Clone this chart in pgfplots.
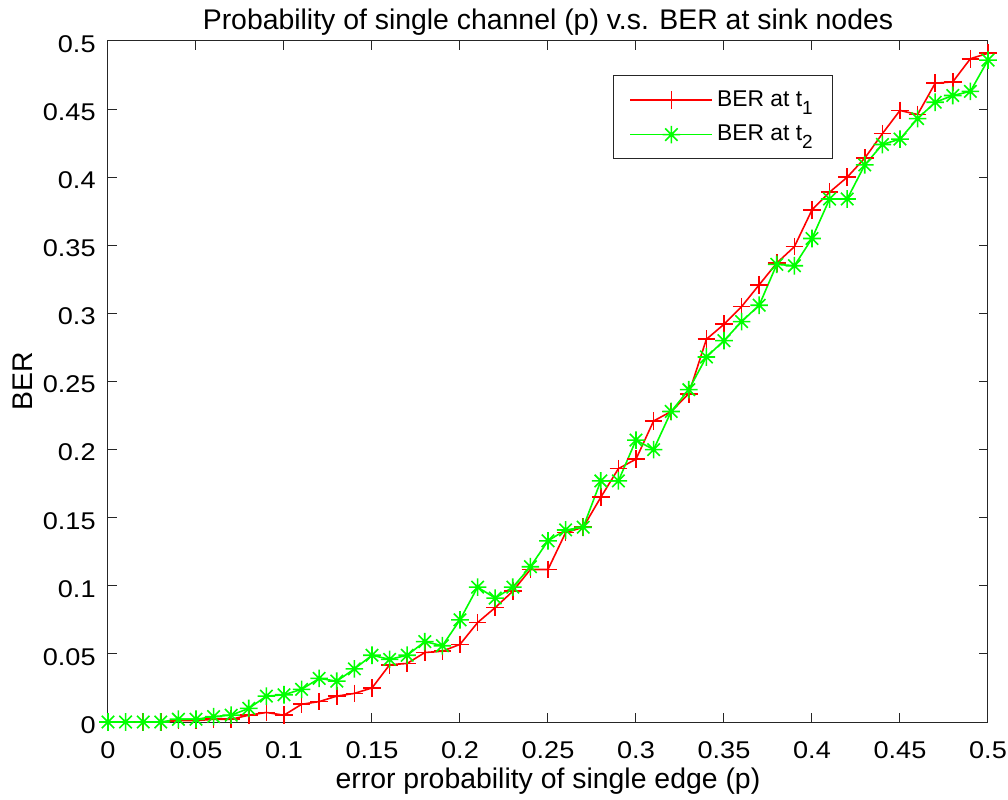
\documentclass[border=0pt]{standalone}
\usepackage{fontspec}
\setmainfont{Liberation Sans}
\newfontfamily\tickfont{Liberation Sans}[FakeStretch=1.12]
\usepackage{pgfplots}
\pgfplotsset{compat=1.18}
\usepackage{pgfplotstable}

\pgfdeclareplotmark{ast8}{%
  \pgfpathmoveto{\pgfqpoint{0pt}{\pgfplotmarksize}}%
  \pgfpathlineto{\pgfqpoint{0pt}{-\pgfplotmarksize}}%
  \pgfpathmoveto{\pgfqpoint{\pgfplotmarksize}{0pt}}%
  \pgfpathlineto{\pgfqpoint{-\pgfplotmarksize}{0pt}}%
  \pgfpathmoveto{\pgfqpoint{0.707\pgfplotmarksize}{0.707\pgfplotmarksize}}%
  \pgfpathlineto{\pgfqpoint{-0.707\pgfplotmarksize}{-0.707\pgfplotmarksize}}%
  \pgfpathmoveto{\pgfqpoint{0.707\pgfplotmarksize}{-0.707\pgfplotmarksize}}%
  \pgfpathlineto{\pgfqpoint{-0.707\pgfplotmarksize}{0.707\pgfplotmarksize}}%
  \pgfusepathqstroke}

\pgfplotstableread{
p t1 t2
0 0 0
0.01 0 0
0.02 0 0
0.03 0 0
0.04 0.001 0.002
0.05 0.001 0.002
0.06 0.002 0.004
0.07 0.002 0.005
0.08 0.005 0.010
0.09 0.007 0.019
0.10 0.005 0.020
0.11 0.013 0.024
0.12 0.015 0.032
0.13 0.019 0.030
0.14 0.021 0.039
0.15 0.025 0.049
0.16 0.042 0.046
0.17 0.043 0.049
0.18 0.051 0.059
0.19 0.052 0.056
0.20 0.057 0.075
0.21 0.073 0.099
0.22 0.084 0.091
0.23 0.096 0.099
0.24 0.112 0.114
0.25 0.112 0.133
0.26 0.139 0.141
0.27 0.143 0.143
0.28 0.165 0.177
0.29 0.186 0.177
0.30 0.193 0.207
0.31 0.221 0.200
0.32 0.228 0.228
0.33 0.241 0.244
0.34 0.281 0.268
0.35 0.292 0.280
0.36 0.305 0.294
0.37 0.321 0.306
0.38 0.337 0.336
0.39 0.349 0.335
0.40 0.376 0.355
0.41 0.389 0.384
0.42 0.400 0.384
0.43 0.414 0.409
0.44 0.432 0.424
0.45 0.449 0.428
0.46 0.446 0.443
0.47 0.469 0.455
0.48 0.470 0.460
0.49 0.487 0.463
0.50 0.491 0.486
}\datatable

\definecolor{axgray}{rgb}{0.15,0.15,0.15}
\newcommand{\fs}{\fontsize{14.2}{16}\selectfont}
\newcommand{\ts}{\tickfont\fontsize{12.1}{14}\selectfont}
\newcommand{\ls}{\fontsize{11.4}{13}\selectfont}
\newcommand{\sub}[1]{\raisebox{-4pt}{\fontsize{9.5}{10}\selectfont #1}}

\begin{document}
\begin{tikzpicture}
\path[use as bounding box] (-54pt,-38.5pt) rectangle (450pt,361pt);
\begin{axis}[
  at={(0,0)}, anchor=south west,
  scale only axis,
  width=440pt, height=340.5pt,
  xmin=0, xmax=0.5, ymin=0, ymax=0.5,
  xtick={0,0.05,...,0.5}, ytick={0,0.05,...,0.5},
  tick align=inside,
  major tick length=4.5pt,
  axis line style={axgray, line width=0.5pt},
  tick style={axgray, line width=0.5pt},
  every tick label/.append style={font=\ts, text=black},
  xticklabel style={anchor=base, yshift=-18pt},
  yticklabel style={anchor=east, inner xsep=0pt, xshift=-6pt, yshift=-1.5pt},
  /pgf/number format/assume math mode=true,
  /pgf/number format/fixed,
  /pgf/number format/precision=2,
  scaled ticks=false,
  title={Probability of single channel (p) v.s. BER at sink nodes},
  title style={font=\fs, at={(axis description cs:0.5,1)}, anchor=base, yshift=-0.5pt},
  xlabel={error probability of single edge (p)},
  xlabel style={font=\fs, at={(axis description cs:0.5,0)}, anchor=base, yshift=-33pt},
  ylabel={BER},
  ylabel style={font=\fs, at={(axis description cs:0,0.5)}, anchor=base, yshift=37.5pt},
  legend style={at={(axis description cs:0.574,0.950)}, anchor=north west,
    font=\ls, draw=axgray, line width=0.5pt,
    row sep=4pt, inner xsep=8pt, inner ysep=5.5pt},
  legend cell align=left,
  legend image code/.code={\draw[mark repeat=2,mark phase=2,#1] plot coordinates {(0pt,0pt) (20.5pt,0pt) (41pt,0pt)};},
]
\addplot[color=red, draw=red, line width=0.8pt, mark=+, mark size=4.4pt] table[x=p, y=t1] {\datatable};
\addlegendentry{BER at t\sub{1}}
\addplot[color=green, draw=green, line width=0.8pt, mark=ast8, mark size=4.4pt] table[x=p, y=t2] {\datatable};
\addlegendentry{BER at t\sub{2}}
\end{axis}
\end{tikzpicture}
\end{document}
